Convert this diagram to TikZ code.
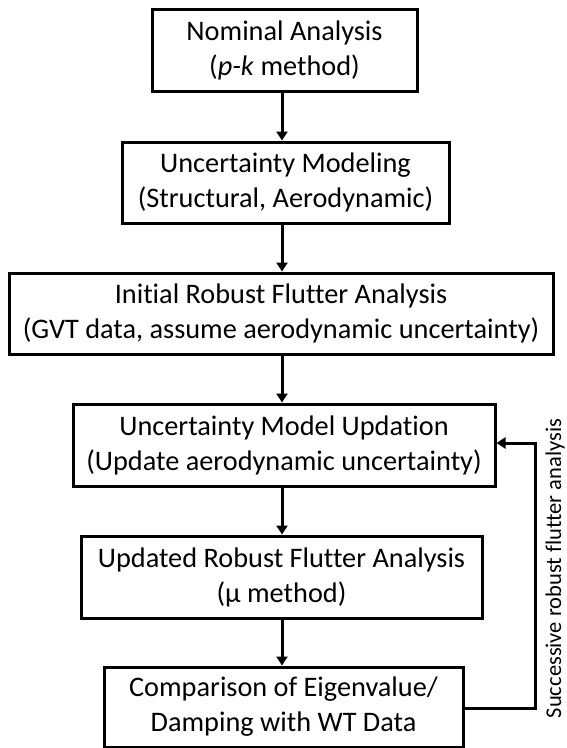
\documentclass[tikz,border=0pt]{standalone}
\usepackage{fontspec}
\setmainfont{Carlito}[Ligatures=NoCommon]
\usetikzlibrary{arrows.meta}
\begin{document}
\begin{tikzpicture}[x=1pt,y=-1pt,
  box/.style={draw,line width=3pt,inner sep=0pt,align=center,
    font=\fontsize{28.3}{35}\selectfont},
  flow/.style={line width=3pt,-{Triangle[width=11pt,length=9pt]}},
  side/.style={inner sep=0pt,font=\fontsize{22.5}{25}\selectfont}]
\useasboundingbox (0,0) rectangle (567,748);
\node[box,minimum width=265pt,minimum height=82pt] (b1) at (284.5,50)
  {Nominal Analysis\\(\textit{p-k} method)};
\node[box,minimum width=327pt,minimum height=81pt] (b2) at (285.5,182.5)
  {Uncertainty Modeling\\(Structural, Aerodynamic)};
\node[box,minimum width=544pt,minimum height=81pt] (b3) at (281,313.5)
  {Initial Robust Flutter Analysis\\(GVT data, assume aerodynamic uncertainty)};
\node[box,minimum width=422pt,minimum height=82pt] (b4) at (284,445)
  {Uncertainty Model Updation\\(Update aerodynamic uncertainty)};
\node[box,minimum width=401pt,minimum height=82pt] (b5) at (281.5,577)
  {Updated Robust Flutter Analysis\\(µ method)};
\node[box,minimum width=359pt,minimum height=80pt] (b6) at (283.5,707)
  {Comparison of Eigenvalue/\\Damping with WT Data};
\coordinate (ax) at (282,0);
\draw[flow] (b1.south -| ax) -- (b2.north -| ax);
\draw[flow] (b2.south -| ax) -- (b3.north -| ax);
\draw[flow] (b3.south -| ax) -- (b4.north -| ax);
\draw[flow] (b4.south -| ax) -- (b5.north -| ax);
\draw[flow] (b5.south -| ax) -- (b6.north -| ax);
\coordinate (fa) at (535,708);
\coordinate (fb) at (535,443);
\draw[flow] (b6.east |- fa) -- (fa) -- (fb) -- (b4.east |- fb);
\node[side,rotate=90] (lbl) at (555,568.5) {Successive robust flutter analysis};
\end{tikzpicture}
\end{document}
